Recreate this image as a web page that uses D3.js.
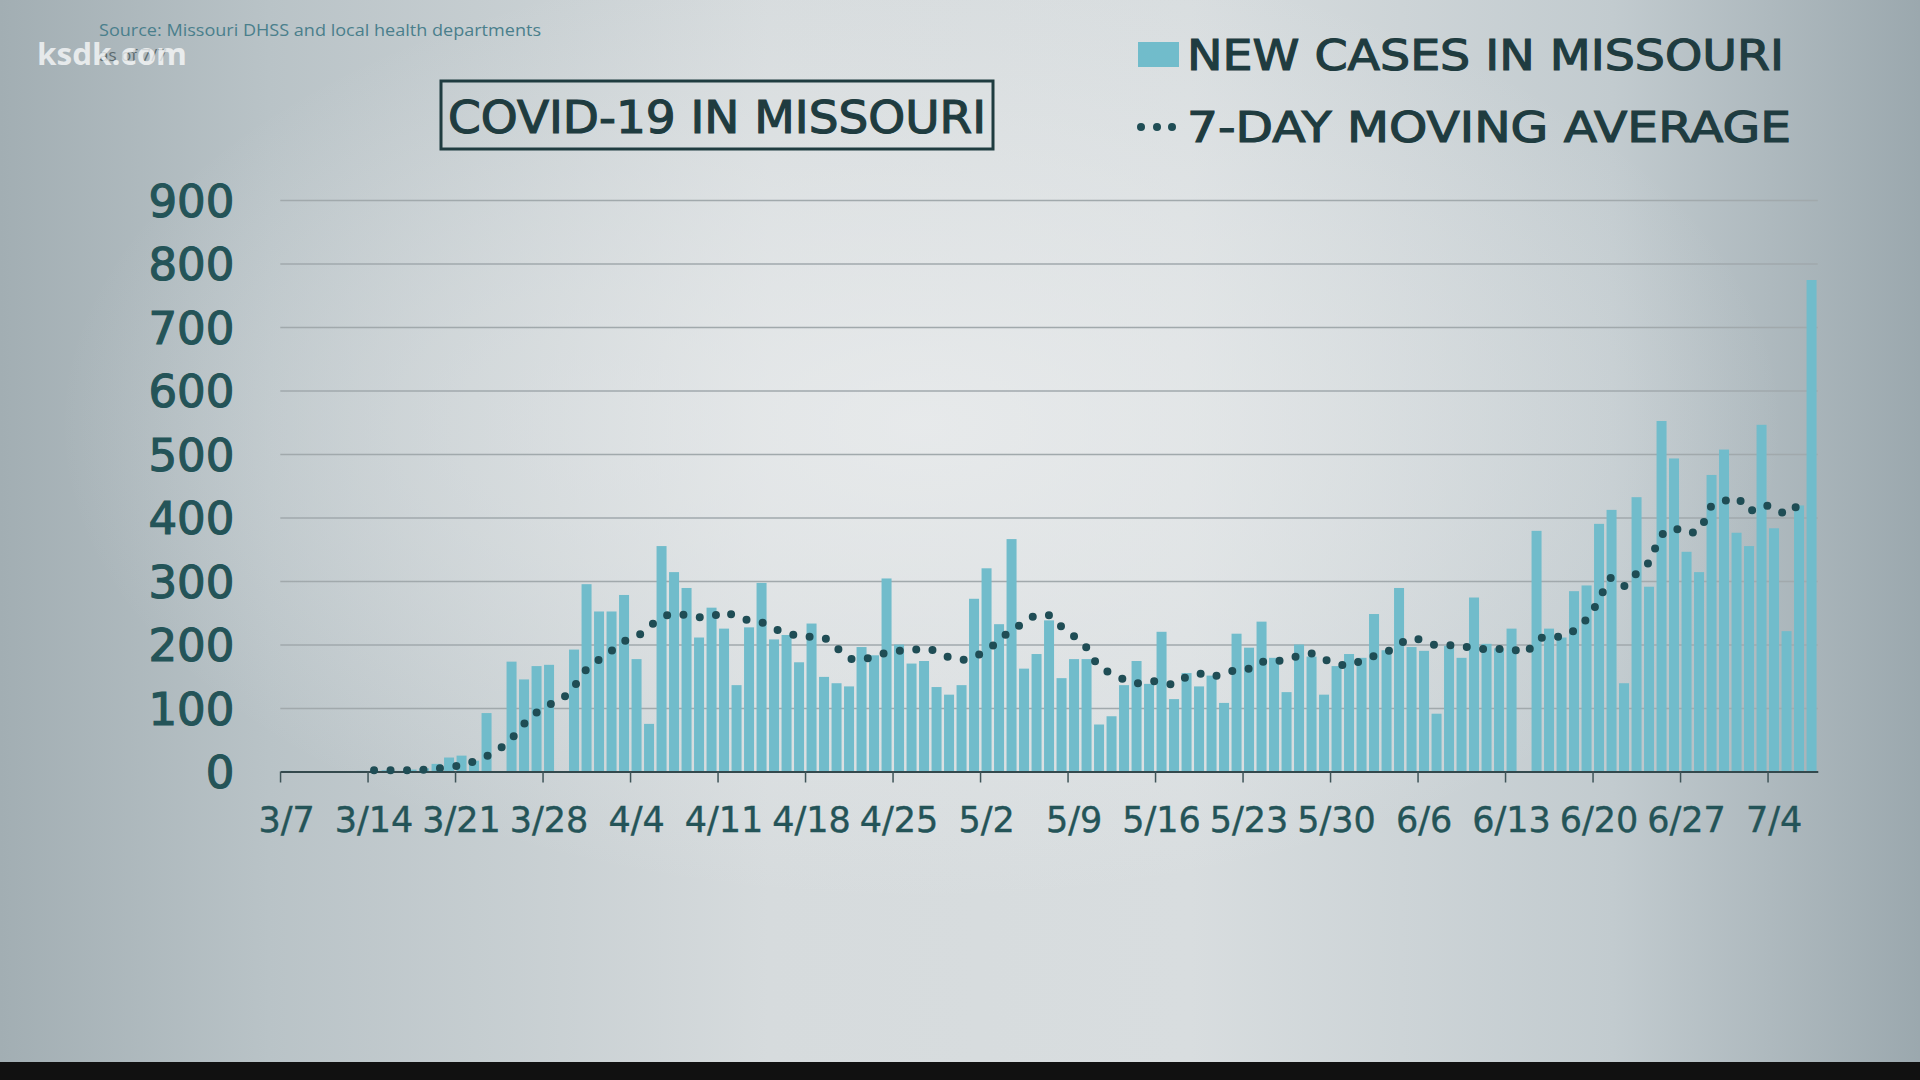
<!DOCTYPE html>
<html>
<head>
<meta charset="utf-8">
<script src="https://cdn.jsdelivr.net/npm/d3@7"></script>
<style>
  body { margin: 0; background: #111; }
  svg { display: block; }
</style>
</head>
<body>
<div id="chart"></div>
<script>
// first and last day shown, one bar per day
var startDay = new Date(2020, 2, 7);
var endDay = new Date(2020, 6, 7);

// new cases per day (null = no bar that day)
var newCases = [
  1, 0, 0, 0, 0, 0, 1, 1, 2, 1, 3, 5, 12, 22, 25, 17, 92, null, 173, 145,
  166, 168, null, 192, 295, 252, 252, 278, 177, 75, 355, 314, 289, 211, 258, 225, 136, 227, 297, 208,
  215, 172, 233, 149, 139, 134, 196, 183, 304, 200, 170, 174, 133, 121, 136, 272, 320, 232, 366, 162,
  185, 238, 147, 177, 177, 74, 87, 136, 174, 138, 220, 114, 155, 134, 151, 108, 217, 195, 236, 179,
  125, 200, 181, 121, 166, 185, 179, 248, 191, 289, 196, 190, 91, 198, 179, 274, 201, 194, 225, null,
  379, 225, 211, 284, 293, 390, 412, 139, 432, 291, 552, 493, 346, 314, 467, 507, 376, 355, 546, 383,
  221, 419, 774
];

// 7-day moving average
var movingAvg = [
  null, null, null, null, null, null, null, 2, 2, 2, 2, 3, 4.5, 7, 10, 16, 24, 35, 52, 75,
  93, 105, 114, 134, 161, 176, 190, 205, 212, 228, 242, 248, 246, 243, 244, 252, 243, 238, 235, 225,
  219, 213, 212, 210, 195, 178, 176, 182, 187, 190, 191, 194, 189, 180, 176, 180, 192, 205, 224, 233,
  246, 246, 228, 213, 195, 165, 155, 145, 139, 143, 140, 137, 149, 154, 149, 156, 159, 162, 173, 173,
  178, 182, 186, 177, 169, 167, 175, 182, 188, 200, 210, 206, 199, 199, 196, 196, 192, 193, 193, 186,
  206, 213, 212, 222, 240, 270, 305, 292, 312, 330, 372, 383, 375, 380, 418, 426, 431, 410, 419, 416,
  405, 419, 420
];

var tickLabels = ["3/7", "3/14", "3/21", "3/28", "4/4", "4/11", "4/18", "4/25", "5/2", "5/9",
  "5/16", "5/23", "5/30", "6/6", "6/13", "6/20", "6/27", "7/4"];
var yTicks = [0, 100, 200, 300, 400, 500, 600, 700, 800, 900];

var barColor = "#71bccb";
var inkColor = "#1f3c40";
var axisColor = "#245458";

function drawChart() {
  var width = 1920;
  var height = 1080;
  var plot = { left: 280.3, right: 1817.8, top: 200, bottom: 771.5 };

  var fmt = d3.timeFormat("%-m/%-d");
  var days = d3.timeDay.range(startDay, d3.timeDay.offset(endDay, 1)).map(fmt);
  var rows = days.map(function (d, i) {
    return { day: d, cases: newCases[i], avg: movingAvg[i] };
  });

  var svg = d3
    .select("#chart")
    .append("svg")
    .attr("width", width)
    .attr("height", height);

  // studio backdrop: dark sides, light middle, soft glow behind the plot
  var defs = svg.append("defs");
  var side = defs
    .append("linearGradient")
    .attr("id", "backdrop")
    .attr("x1", "0%")
    .attr("x2", "100%")
    .attr("y1", "0%")
    .attr("y2", "0%");
  [
    ["0%", "#a2aeb3"],
    ["14%", "#b9c3c7"],
    ["40%", "#d6dbdd"],
    ["62%", "#d8dddf"],
    ["84%", "#c2cbcf"],
    ["100%", "#9ba8ae"],
  ].forEach(function (s) {
    side.append("stop").attr("offset", s[0]).attr("stop-color", s[1]);
  });

  var glow = defs
    .append("radialGradient")
    .attr("id", "glow")
    .attr("cx", "48%")
    .attr("cy", "40%")
    .attr("r", "45%");
  glow.append("stop").attr("offset", "0%").attr("stop-color", "#eceeef").attr("stop-opacity", 0.75);
  glow.append("stop").attr("offset", "100%").attr("stop-color", "#eceeef").attr("stop-opacity", 0);

  svg
    .append("rect")
    .attr("width", width)
    .attr("height", 1062)
    .style("fill", "url(#backdrop)");
  svg
    .append("rect")
    .attr("width", width)
    .attr("height", 1062)
    .style("fill", "url(#glow)");
  svg
    .append("rect")
    .attr("y", 1062)
    .attr("width", width)
    .attr("height", height - 1062)
    .style("fill", "#111111");

  var x = d3
    .scaleBand()
    .domain(days)
    .range([plot.left, plot.right])
    .paddingInner(0.2)
    .paddingOuter(0.1);

  var y = d3.scaleLinear().domain([0, 900]).range([plot.bottom, plot.top]);

  // gridlines
  svg
    .append("g")
    .attr("class", "grid")
    .attr("transform", "translate(" + plot.left + ",0)")
    .call(
      d3
        .axisLeft(y)
        .tickValues(yTicks.slice(1))
        .tickSize(-(plot.right - plot.left))
        .tickFormat("")
    )
    .call(function (g) {
      g.select(".domain").remove();
      g.selectAll("line").style("stroke", "#a1a9ac").style("stroke-width", 1.5);
    });

  // y labels
  svg
    .append("g")
    .attr("class", "y_axis")
    .attr("transform", "translate(" + plot.left + ",0)")
    .call(d3.axisLeft(y).tickValues(yTicks).tickSize(0).tickPadding(46))
    .call(function (g) {
      g.select(".domain").remove();
      g.selectAll("text")
        .attr("dy", "0.36em")
        .style("font-family", "DejaVu Sans")
        .style("font-size", "45px")
        .style("fill", axisColor)
        .style("stroke", axisColor)
        .style("stroke-width", 1.2);
    });

  // bars
  svg
    .append("g")
    .attr("class", "bars")
    .selectAll("rect")
    .data(rows.filter(function (d) { return d.cases != null; }))
    .enter()
    .append("rect")
    .attr("x", function (d) { return x(d.day); })
    .attr("width", x.bandwidth())
    .attr("y", function (d) { return y(d.cases); })
    .attr("height", function (d) { return y(0) - y(d.cases); })
    .style("fill", barColor);

  // x axis, ticks sit at the left edge of each labelled day
  var tickShift = -x.bandwidth() / 2 - 1;
  svg
    .append("g")
    .attr("class", "x_axis")
    .attr("transform", "translate(0," + plot.bottom + ")")
    .call(
      d3
        .axisBottom(x)
        .tickValues(tickLabels)
        .tickSize(11)
        .tickSizeOuter(0)
    )
    .call(function (g) {
      g.select(".domain").style("stroke", "#34494d").style("stroke-width", 2);
      g.selectAll(".tick line")
        .attr("transform", "translate(" + tickShift + ",0)")
        .style("stroke", "#3e5458")
        .style("stroke-width", 1.5);
      g.selectAll(".tick text")
        .attr("y", 60)
        .attr("dy", 0)
        .style("font-family", "DejaVu Sans")
        .style("font-size", "35px")
        .style("fill", axisColor)
        .style("stroke", axisColor)
        .style("stroke-width", 0.4);
    });

  // moving average as a round-dotted line
  var avgLine = d3
    .line()
    .defined(function (d) { return d.avg != null; })
    .x(function (d) { return x(d.day) + x.bandwidth() / 2; })
    .y(function (d) { return y(d.avg); })
    .curve(d3.curveMonotoneX);

  svg
    .append("path")
    .datum(rows)
    .attr("d", avgLine)
    .style("fill", "none")
    .style("stroke", "#1f4d55")
    .style("stroke-width", 8)
    .style("stroke-linecap", "round")
    .style("stroke-dasharray", "0 16.5");

  // title box
  svg
    .append("rect")
    .attr("x", 441)
    .attr("y", 81)
    .attr("width", 552)
    .attr("height", 68)
    .style("fill", "none")
    .style("stroke", inkColor)
    .style("stroke-width", 3);
  svg
    .append("text")
    .attr("x", 448)
    .attr("y", 133)
    .attr("textLength", 538)
    .attr("lengthAdjust", "spacingAndGlyphs")
    .style("font-family", "DejaVu Sans")
    .style("font-size", "45px")
    .style("fill", inkColor)
    .style("stroke", inkColor)
    .style("stroke-width", 1.2)
    .text("COVID-19 IN MISSOURI");

  // legend
  var legend = svg.append("g").attr("class", "legend");
  legend
    .append("rect")
    .attr("x", 1138)
    .attr("y", 42)
    .attr("width", 41)
    .attr("height", 25)
    .style("fill", barColor);
  legend
    .selectAll("circle")
    .data([1141, 1157, 1172])
    .enter()
    .append("circle")
    .attr("cx", function (d) { return d; })
    .attr("cy", 127)
    .attr("r", 4)
    .style("fill", "#1f4d55");
  legend
    .selectAll("text")
    .data([
      { label: "NEW CASES IN MISSOURI", y: 70, len: 597 },
      { label: "7-DAY MOVING AVERAGE", y: 142, len: 604 },
    ])
    .enter()
    .append("text")
    .attr("x", 1187)
    .attr("y", function (d) { return d.y; })
    .attr("textLength", function (d) { return d.len; })
    .attr("lengthAdjust", "spacingAndGlyphs")
    .style("font-family", "DejaVu Sans")
    .style("font-size", "43px")
    .style("fill", inkColor)
    .style("stroke", inkColor)
    .style("stroke-width", 1.2)
    .text(function (d) { return d.label; });

  // source note and station bug (the bug sits over the date line, as on air)
  svg
    .append("text")
    .attr("x", 99)
    .attr("y", 36)
    .attr("textLength", 442)
    .attr("lengthAdjust", "spacingAndGlyphs")
    .style("font-family", "Open Sans")
    .style("font-size", "17px")
    .style("fill", "#4a7f8c")
    .text("Source: Missouri DHSS and local health departments");
  svg
    .append("text")
    .attr("x", 99)
    .attr("y", 61)
    .style("font-family", "Open Sans")
    .style("font-size", "17px")
    .style("fill", "#5b6a6e")
    .text("as of 7/7");
  svg
    .append("text")
    .attr("x", 37)
    .attr("y", 65)
    .attr("textLength", 150)
    .attr("lengthAdjust", "spacingAndGlyphs")
    .style("font-family", "Open Sans")
    .style("font-weight", "bold")
    .style("font-size", "31px")
    .style("fill", "#ffffff")
    .style("opacity", 0.72)
    .text("ksdk.com");
}

drawChart();
</script>
</body>
</html>
